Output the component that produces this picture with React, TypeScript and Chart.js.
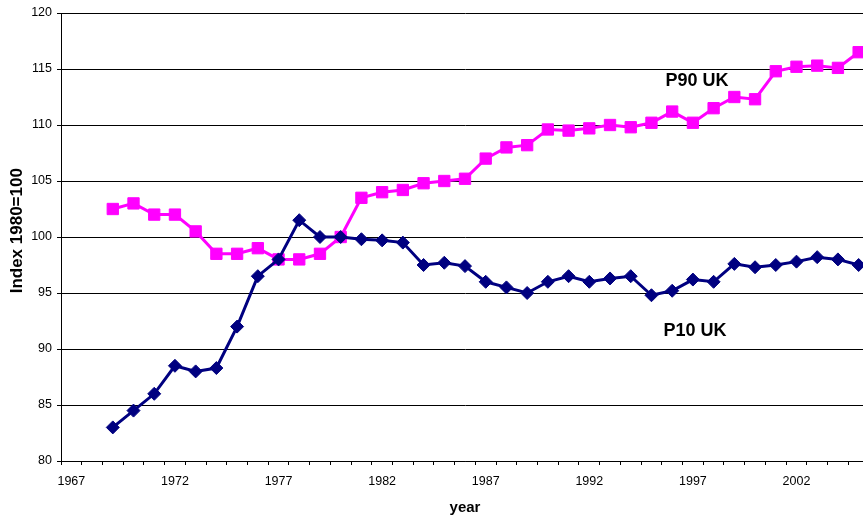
import React, { useEffect, useRef } from "react";
import { Chart, registerables } from "chart.js";

Chart.register(...registerables);

const years: string[] = [];
for (let y = 1967; y <= 2005; y++) years.push(String(y));

// values from 1967 to 2005 (first two years have no data)
const p10UK: (number | null)[] = [
  null, null,
  83.0, 84.5, 86.0, 88.5, 88.0, 88.3, 92.0, 96.5, 98.0, 101.5,
  100.0, 100.0, 99.8, 99.7, 99.5, 97.5, 97.7, 97.4, 96.0, 95.5,
  95.0, 96.0, 96.5, 96.0, 96.3, 96.5, 94.8, 95.2, 96.2, 96.0,
  97.6, 97.3, 97.5, 97.8, 98.2, 98.0, 97.5,
];

const p90UK: (number | null)[] = [
  null, null,
  102.5, 103.0, 102.0, 102.0, 100.5, 98.5, 98.5, 99.0, 98.0, 98.0,
  98.5, 100.0, 103.5, 104.0, 104.2, 104.8, 105.0, 105.2, 107.0, 108.0,
  108.2, 109.6, 109.5, 109.7, 110.0, 109.8, 110.2, 111.2, 110.2, 111.5,
  112.5, 112.3, 114.8, 115.2, 115.3, 115.1, 116.5,
];

const yTicks = { min: 80, max: 120, step: 5 };
const labelEvery = 5;
const yTitle = "Index 1980=100";
const xTitle = "year";

const seriesLabels = [
  { text: "P90 UK", yearIndex: 30.2, value: 113.9 },
  { text: "P10 UK", yearIndex: 30.1, value: 91.6 },
];

const FONT = "'Liberation Sans', Arial, sans-serif";

const textPlugin = {
  id: "seriesText",
  afterDatasetsDraw(chart: any) {
    const { ctx, scales, chartArea } = chart;
    ctx.save();
    ctx.font = `bold 18px ${FONT}`;
    ctx.fillStyle = "#000";
    ctx.textAlign = "center";
    ctx.textBaseline = "middle";
    for (const l of seriesLabels) {
      const x = scales.x.getPixelForValue(l.yearIndex);
      const y = scales.y.getPixelForValue(l.value);
      ctx.fillText(l.text, x, y);
    }
    // rotated y-axis title
    ctx.font = `bold 17px ${FONT}`;
    ctx.translate(17, chartArea.top + (chartArea.bottom - chartArea.top) * 0.486);
    ctx.rotate(-Math.PI / 2);
    ctx.fillText(yTitle, 0, 0);
    ctx.restore();
  },
};

// the plot runs a few pixels past the right edge of the picture
const CANVAS_W = 878;
const VIEW_W = 863;
const VIEW_H = 518;

export default function App() {
  const ref = useRef<HTMLCanvasElement | null>(null);
  useEffect(() => {
    if (!ref.current) return;
    const chart = new Chart(ref.current, {
      type: "line",
      data: {
        labels: years,
        datasets: [
          {
            label: "P10 UK",
            data: p10UK,
            borderColor: "#000080",
            backgroundColor: "#000080",
            borderWidth: 3,
            pointStyle: "rectRot",
            pointRadius: 6.5,
            pointBorderWidth: 1,
            tension: 0,
          },
          {
            label: "P90 UK",
            data: p90UK,
            borderColor: "#FF00FF",
            backgroundColor: "#FF00FF",
            borderWidth: 3,
            pointStyle: "rect",
            pointRadius: 8,
            pointBorderWidth: 1,
            tension: 0,
          },
        ],
      },
      options: {
        animation: false,
        responsive: false,
        maintainAspectRatio: false,
        layout: { padding: { top: 13, right: 0, left: 0, bottom: 0 } },
        plugins: {
          legend: { display: false },
          tooltip: { enabled: false },
        },
        scales: {
          x: {
            type: "category",
            offset: true,
            afterFit: (s: any) => {
              s.height = 57;
            },
            grid: {
              offset: true,
              drawOnChartArea: false,
              drawTicks: true,
              tickLength: 4,
              tickColor: "#000",
            },
            border: { display: true, color: "#000", width: 1 },
            ticks: {
              autoSkip: false,
              maxRotation: 0,
              minRotation: 0,
              padding: 9,
              color: "#000",
              font: { family: FONT, size: 12.5 },
              callback: (_v: any, i: number) =>
                i % labelEvery === 0 ? years[i] : "",
            },
            title: {
              display: true,
              text: xTitle,
              color: "#000",
              font: { family: FONT, size: 15, weight: "bold" },
              padding: { top: 0, bottom: 1 },
            },
          },
          y: {
            min: yTicks.min,
            max: yTicks.max,
            afterFit: (s: any) => {
              s.width = 61;
            },
            grid: {
              color: "#000",
              lineWidth: 1,
              drawTicks: true,
              tickLength: 4,
              tickColor: "#000",
            },
            border: { display: true, color: "#000", width: 1 },
            ticks: {
              stepSize: yTicks.step,
              padding: 5,
              color: "#000",
              font: { family: FONT, size: 12.5 },
            },
            title: { display: false },
          },
        },
      },
      plugins: [textPlugin],
    });
    return () => chart.destroy();
  }, []);
  return (
    <div
      style={{
        position: "fixed",
        left: 0,
        top: 0,
        width: VIEW_W,
        height: VIEW_H,
        overflow: "hidden",
        background: "#fff",
      }}
    >
      <canvas ref={ref} width={CANVAS_W} height={VIEW_H} style={{ display: "block" }} />
    </div>
  );
}
